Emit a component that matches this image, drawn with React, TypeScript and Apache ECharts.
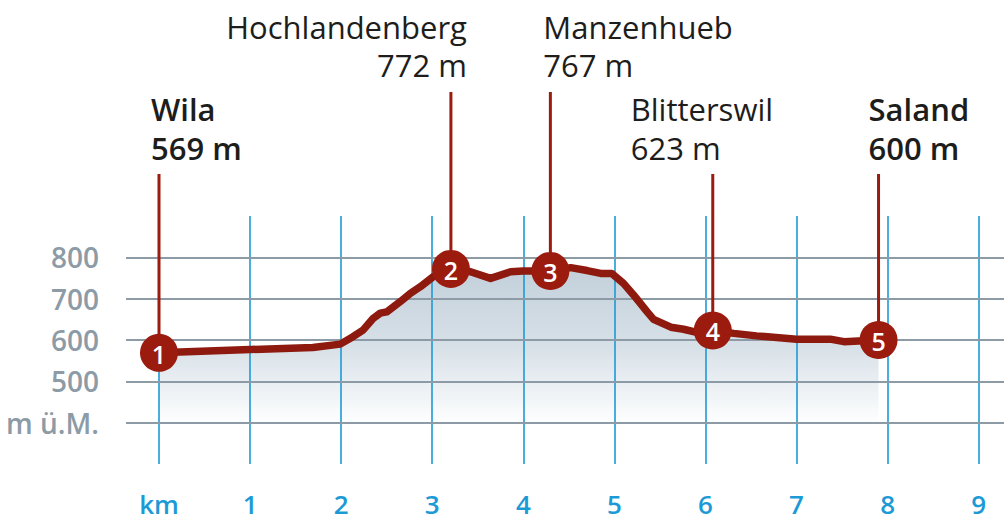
import React, { useEffect, useRef } from "react";
import * as echarts from "echarts";

// ---- data ----
const PROFILE_KM = [
  0, 1.0, 1.69, 1.99, 2.13, 2.24, 2.35, 2.43, 2.5, 2.65, 2.76, 2.87, 3.01, 3.205,
  3.42, 3.64, 3.86, 4.0, 4.297, 4.52, 4.7, 4.85, 4.97, 5.1, 5.21, 5.36, 5.43,
  5.62, 5.76, 5.95, 6.08, 6.31, 6.56, 7.0, 7.37, 7.52, 7.9,
];
const PROFILE_ELEV = [
  569, 577, 582, 590, 608, 624, 652, 665, 668, 693, 713, 729, 753, 772,
  765, 749, 765, 767, 767, 775, 768, 761, 761, 737, 709, 668, 650,
  631, 626, 616, 623, 616, 610, 602, 602, 596, 600,
];
const WAYPOINT_NUM = ["1", "2", "3", "4", "5"];
const WAYPOINT_NAMES = ["Wila", "Hochlandenberg", "Manzenhueb", "Blitterswil", "Saland"];
const WAYPOINT_KM = [0, 3.205, 4.297, 6.08, 7.9];
const WAYPOINT_ELEV = [569, 772, 767, 623, 600];
const X_TICKS = [0, 1, 2, 3, 4, 5, 6, 7, 8, 9];
const X_TICK_LABELS = ["km", "1", "2", "3", "4", "5", "6", "7", "8", "9"];
const Y_TICKS = [400, 500, 600, 700, 800];
const Y_TICK_LABELS = ["m ü.M.", "500", "600", "700", "800"];

// ---- layout / style (not data) ----
const LABEL_LAYOUT = [
  { stemTop: 174, align: "left", dx: -8, nameY: 109, elevY: 148, bold: true },
  { stemTop: 92, align: "right", dx: 16, nameY: 27, elevY: 65, bold: false },
  { stemTop: 92, align: "left", dx: -7, nameY: 27, elevY: 65, bold: false },
  { stemTop: 174, align: "left", dx: -82, nameY: 109, elevY: 148, bold: false },
  { stemTop: 174, align: "left", dx: -10, nameY: 109, elevY: 148, bold: true },
];
const FONT = "'Open Sans', 'Noto Sans', sans-serif";
const RED_LINE = "#8e1a0f";
const RED_MARK = "#9b1b0f";
const BLUE = "#1c9ad6";
const GRAY = "#8c9ba6";
const R = 19;

export default function App() {
  const ref = useRef<HTMLDivElement>(null);

  useEffect(() => {
    if (!ref.current) return;
    const chart = echarts.init(ref.current, undefined, { renderer: "svg" });
    const profile = PROFILE_KM.map((k, i) => [k, PROFILE_ELEV[i]]);
    const waypoints = WAYPOINT_KM.map((k, i) => [k, WAYPOINT_ELEV[i], i]);

    const option: any = {
      animation: false,
      backgroundColor: "#ffffff",
      grid: { left: 126, right: 0, top: 216, bottom: 525 - 464 },
      xAxis: {
        type: "value",
        min: -33 / 91.08,
        max: (1004 - 159) / 91.08,
        axisLine: { show: false },
        axisTick: { show: false },
        splitLine: { show: false },
        axisLabel: {
          customValues: X_TICKS,
          formatter: (v: number) => X_TICK_LABELS[X_TICKS.indexOf(Math.round(v))] ?? "",
          color: BLUE,
          fontFamily: FONT,
          fontSize: 26,
          fontWeight: 600,
          verticalAlign: "middle",
          margin: 40,
        },
      },
      yAxis: {
        type: "value",
        min: 300,
        max: 900,
        interval: 100,
        axisLine: { show: false },
        axisTick: { show: false },
        splitLine: { show: false },
        axisLabel: {
          customValues: Y_TICKS,
          formatter: (v: number) => Y_TICK_LABELS[Y_TICKS.indexOf(Math.round(v))] ?? "",
          color: GRAY,
          fontFamily: FONT,
          fontSize: 28,
          fontWeight: 600,
          margin: 27,
        },
      },
      series: [
        {
          type: "line",
          data: profile,
          symbol: "none",
          z: 1,
          lineStyle: { width: 0 },
          areaStyle: {
            origin: "start",
            color: new echarts.graphic.LinearGradient(0, 0, 0, 1, [
              { offset: 0, color: "#a9bccb" },
              { offset: 0.4, color: "#c6d3dd" },
              { offset: 0.8, color: "#ffffff" },
              { offset: 1, color: "#ffffff" },
            ]),
          },
          silent: true,
        },
        {
          type: "line",
          data: [],
          z: 2,
          silent: true,
          markLine: {
            z: 2,
            silent: true,
            symbol: "none",
            label: { show: false },
            data: [
              ...X_TICKS.map((v) => ({ xAxis: v, lineStyle: { color: BLUE, width: 1.6, type: "solid" } })),
              ...Y_TICKS.map((v) => ({ yAxis: v, lineStyle: { color: GRAY, width: 2, type: "solid" } })),
            ],
          },
        },
        {
          type: "line",
          data: profile,
          symbol: "none",
          z: 3,
          lineStyle: { color: RED_LINE, width: 7.5, join: "round", cap: "round" },
          silent: true,
        },
        {
          type: "custom",
          z: 6,
          silent: true,
          clip: false,
          data: waypoints,
          renderItem: (params: any, api: any) => {
            const i = params.dataIndex;
            const p = api.coord([api.value(0), api.value(1)]);
            const L = LABEL_LAYOUT[i];
            const tx = p[0] + L.dx;
            const weight = L.bold ? 600 : 400;
            return {
              type: "group",
              children: [
                {
                  type: "line",
                  z2: 1,
                  shape: { x1: p[0], y1: L.stemTop, x2: p[0], y2: p[1] - R + 1 },
                  style: { stroke: RED_MARK, lineWidth: 3 },
                },
                {
                  type: "circle",
                  z2: 2,
                  shape: { cx: p[0], cy: p[1], r: R },
                  style: { fill: RED_MARK },
                },
                {
                  type: "text",
                  z2: 3,
                  x: p[0],
                  y: p[1] + 1,
                  style: {
                    text: WAYPOINT_NUM[i],
                    fill: "#ffffff",
                    fontFamily: FONT,
                    fontSize: 25,
                    fontWeight: 600,
                    align: "center",
                    verticalAlign: "middle",
                  },
                },
                {
                  type: "text",
                  x: tx,
                  y: L.nameY,
                  style: {
                    text: WAYPOINT_NAMES[i],
                    fill: "#1d1d1b",
                    fontFamily: FONT,
                    fontSize: 31,
                    fontWeight: weight,
                    align: L.align,
                    verticalAlign: "middle",
                  },
                },
                {
                  type: "text",
                  x: tx,
                  y: L.elevY,
                  style: {
                    text: `${WAYPOINT_ELEV[i]} m`,
                    fill: "#1d1d1b",
                    fontFamily: FONT,
                    fontSize: 31,
                    fontWeight: weight,
                    align: L.align,
                    verticalAlign: "middle",
                  },
                },
              ],
            };
          },
        },
      ],
    };

    chart.setOption(option);
    return () => chart.dispose();
  }, []);

  return (
    <div
      ref={ref}
      style={{ position: "fixed", left: 0, top: 0, width: 1004, height: 525, background: "#fff" }}
    />
  );
}
